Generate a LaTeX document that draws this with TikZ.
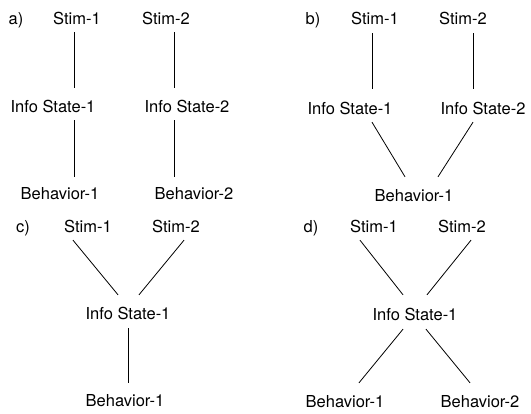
\documentclass[tikz,border=0pt]{standalone}
\usepackage{fontspec}
\setmainfont{TeX Gyre Heros}
\usepackage{tikz}
\usetikzlibrary{positioning}

\begin{document}
\begin{tikzpicture}[x=1pt, y=-1pt,
    lbl/.style={font=\fontsize{16.5}{18}\selectfont, inner sep=0pt, text height=12pt, text depth=0pt, anchor=base},
    link/.style={line width=0.8pt}]
    \useasboundingbox (0,0) rectangle (531,414);

    % Panel a: two separate chains
    \node[lbl] (a-tag) at (16,25) {a)};
    \node[lbl] (a-s1) at (77,25) {Stim-1};
    \node[lbl] (a-s2) at (166,25) {Stim-2};
    \node[lbl] (a-is1) at (53,113) {Info State-1};
    \node[lbl] (a-is2) at (187,113) {Info State-2};
    \node[lbl] (a-b1) at (60,200) {Behavior-1};
    \node[lbl] (a-b2) at (194,200) {Behavior-2};
    \draw[link] ([xshift=-3pt,yshift=-7pt]a-s1.south) -- ([xshift=21pt,yshift=13pt]a-is1.north);
    \draw[link] ([xshift=8pt,yshift=-7pt]a-s2.south) -- ([xshift=-13pt,yshift=13pt]a-is2.north);
    \draw[link] ([xshift=21pt,yshift=-7pt]a-is1.south) -- ([xshift=14pt,yshift=11pt]a-b1.north);
    \draw[link] ([xshift=-13pt,yshift=-7pt]a-is2.south) -- ([xshift=-20pt,yshift=11pt]a-b2.north);

    % Panel b: two states, one behavior
    \node[lbl] (b-tag) at (313,25) {b)};
    \node[lbl] (b-s1) at (375,25) {Stim-1};
    \node[lbl] (b-s2) at (463,25) {Stim-2};
    \node[lbl] (b-is1) at (350,115) {Info State-1};
    \node[lbl] (b-is2) at (483,115) {Info State-2};
    \node[lbl] (b-b1) at (414,202) {Behavior-1};
    \draw[link] ([xshift=-3pt,yshift=-8pt]b-s1.south) -- ([xshift=22pt,yshift=14pt]b-is1.north);
    \draw[link] ([xshift=10pt,yshift=-8pt]b-s2.south) -- ([xshift=-10pt,yshift=14pt]b-is2.north);
    \draw[link] ([xshift=22pt,yshift=-7pt]b-is1.south) -- ([xshift=-9pt,yshift=13pt]b-b1.north);
    \draw[link] ([xshift=-10pt,yshift=-7pt]b-is2.south) -- ([xshift=24pt,yshift=13pt]b-b1.north);

    % Panel c: two stimuli, one state
    \node[lbl] (c-tag) at (23,233) {c)};
    \node[lbl] (c-s1) at (88,233) {Stim-1};
    \node[lbl] (c-s2) at (176,233) {Stim-2};
    \node[lbl] (c-is1) at (128,320) {Info State-1};
    \node[lbl] (c-b1) at (125,407) {Behavior-1};
    \draw[link] ([xshift=-15pt,yshift=-7pt]c-s1.south) -- ([xshift=-10pt,yshift=13pt]c-is1.north);
    \draw[link] ([xshift=8pt,yshift=-7pt]c-s2.south) -- ([xshift=11pt,yshift=13pt]c-is1.north);
    \draw[link] ([yshift=-8pt]c-is1.south) -- ([xshift=3pt,yshift=12pt]c-b1.north);

    % Panel d: one state, two behaviors
    \node[lbl] (d-tag) at (311,233) {d)};
    \node[lbl] (d-s1) at (374,233) {Stim-1};
    \node[lbl] (d-s2) at (462,233) {Stim-2};
    \node[lbl] (d-is1) at (415,321) {Info State-1};
    \node[lbl] (d-b1) at (345,408) {Behavior-1};
    \node[lbl] (d-b2) at (480,408) {Behavior-2};
    \draw[link] ([xshift=-14pt,yshift=-7pt]d-s1.south) -- ([xshift=-12pt,yshift=14pt]d-is1.north);
    \draw[link] ([xshift=9pt,yshift=-7pt]d-s2.south) -- ([xshift=12pt,yshift=14pt]d-is1.north);
    \draw[link] ([xshift=-12pt,yshift=-8pt]d-is1.south) -- ([xshift=14pt,yshift=13pt]d-b1.north);
    \draw[link] ([xshift=11pt,yshift=-8pt]d-is1.south) -- ([xshift=-10pt,yshift=13pt]d-b2.north);
\end{tikzpicture}
\end{document}
